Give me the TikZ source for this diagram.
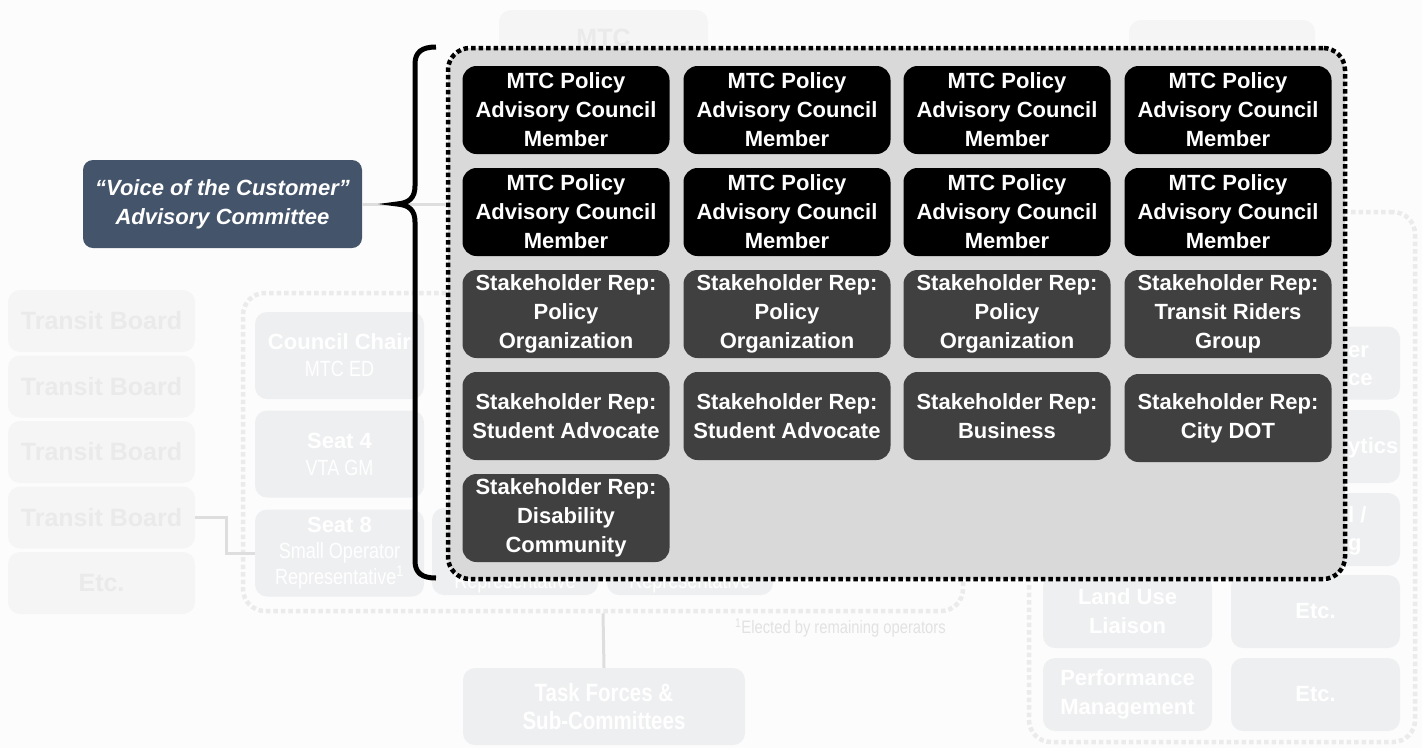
\documentclass[tikz,border=0pt]{standalone}
\usepackage{fontspec}
\setmainfont{Liberation Sans}
\newfontfamily\condfont[FakeStretch=0.82]{Liberation Sans}

\definecolor{voiceblue}{HTML}{44546A}
\definecolor{repgrey}{HTML}{404040}
\definecolor{groupgrey}{HTML}{D9D9D9}
\definecolor{pagebg}{HTML}{FCFCFC}
\definecolor{fadefill}{HTML}{EEEFF0}
\definecolor{palefill}{HTML}{F5F5F5}
\definecolor{paletext}{HTML}{EAEAEA}
\definecolor{linegrey}{HTML}{DEDEDE}
\definecolor{dotgrey}{HTML}{EBEBEB}
\definecolor{footgrey}{HTML}{E2E2E2}

\begin{document}
\begin{tikzpicture}[x=1pt, y=-1pt]
\tikzstyle{member}=[fill=black, text=white, rounded corners=14pt, minimum width=207pt, minimum height=88pt, inner sep=0pt, align=center, font=\fontsize{22}{29}\selectfont\bfseries]
\tikzstyle{rep}=[member, fill=repgrey]
\tikzstyle{voice}=[fill=voiceblue, text=white, rounded corners=10pt, minimum width=279pt, minimum height=88pt, inner sep=0pt, align=center, font=\fontsize{22}{29}\selectfont\bfseries\itshape]
\tikzstyle{vocgroup}=[draw=black, fill=groupgrey, line width=4.5pt, dash pattern=on 4.5pt off 3pt, rounded corners=22pt, inner sep=0pt]
\tikzstyle{fadegroup}=[draw=dotgrey, line width=4.5pt, dash pattern=on 4.5pt off 3pt, rounded corners=22pt, inner sep=0pt]
\tikzstyle{fadebox}=[fill=fadefill, text=white, rounded corners=12pt, inner sep=0pt, align=center, font=\fontsize{22}{27}\selectfont\bfseries]
\tikzstyle{fadetext}=[text=white, inner sep=0pt, font=\fontsize{22}{28}\selectfont\bfseries]
\tikzstyle{palebox}=[fill=palefill, text=paletext, rounded corners=12pt, minimum width=187pt, minimum height=62pt, inner sep=0pt, font=\fontsize{25}{29}\selectfont\bfseries]
\tikzstyle{fadeline}=[draw=linegrey, line width=3pt]

\useasboundingbox (0,0) rectangle (1422,748);
\fill[pagebg] (0,0) rectangle (1422,748);

% faded org chart behind
\node[palebox] at (101.5,321) (tb1) {Transit Board};
\node[palebox] at (101.5,386.5) (tb2) {Transit Board};
\node[palebox] at (101.5,452) (tb3) {Transit Board};
\node[palebox] at (101.5,517.5) (tb4) {Transit Board};
\node[palebox] at (101.5,583) (tbetc) {Etc.};

\node[palebox, minimum width=209pt, minimum height=56pt] at (603.5,38) (mtc) {MTC};
\node[palebox, minimum width=186pt, minimum height=60pt] at (1222,50) (topright) {};

\node[fadegroup, minimum width=720pt, minimum height=318pt] at (603,452) (council) {};
\node[fadebox, minimum width=169pt, minimum height=87pt] at (339.5,355.5) (chair) {Council Chair\\{\condfont\mdseries MTC ED}};
\node[fadebox, minimum width=169pt, minimum height=87pt] at (339.5,454) (seat4) {Seat 4\\{\condfont\mdseries VTA GM}};
\node[fadebox, minimum width=169pt, minimum height=87pt, font=\fontsize{22}{26}\selectfont\bfseries] at (339.5,553) (seat8) {Seat 8\\{\condfont\mdseries Small Operator}\\{\condfont\mdseries Representative\textsuperscript{1}}};
\node[fadebox, minimum width=166pt, minimum height=87pt] at (515,551.5) (seat9) {};
\node[fadebox, minimum width=166pt, minimum height=87pt] at (690,551.5) (seat10) {};
\node[fadetext, font=\condfont\fontsize{22}{25}\selectfont] at (515,583) (seat9txt) {Representative};
\node[fadetext, font=\condfont\fontsize{22}{25}\selectfont] at (690,583) (seat10txt) {Representative};
\node[text=footgrey, inner sep=0pt, font=\condfont\fontsize{18}{20}\selectfont] at (840.5,628) (footnote) {\textsuperscript{1}Elected by remaining operators};

\node[fadebox, minimum width=282pt, minimum height=77pt, font=\condfont\bfseries\fontsize{25}{28}\selectfont] at (604,706.5) (task) {Task Forces \&\\Sub-Committees};

\draw[fadeline] (tb4.east) -- ++(31,0) |- (seat8.west);
\draw[fadeline] (council.south) -- (task.north);

\node[fadegroup, minimum width=386pt, minimum height=530pt] at (1222,477) (staff) {};
\node[fadebox, minimum width=169pt, minimum height=73pt] at (1315.5,363) (staff1) {};
\node[fadebox, minimum width=169pt, minimum height=73pt] at (1315.5,446.5) (staff2) {};
\node[fadebox, minimum width=169pt, minimum height=73pt] at (1315.5,529.5) (staff3) {};
\node[fadebox, minimum width=169pt, minimum height=73pt, font=\fontsize{22}{29}\selectfont\bfseries] at (1127.5,611.5) (landuse) {Land Use\\Liaison};
\node[fadebox, minimum width=169pt, minimum height=73pt] at (1315.5,611.5) (etc1) {Etc.};
\node[fadebox, minimum width=169pt, minimum height=73pt, font=\fontsize{22}{29}\selectfont\bfseries] at (1127.5,694.5) (perf) {Performance\\Management};
\node[fadebox, minimum width=169pt, minimum height=73pt] at (1315.5,694.5) (etc2) {Etc.};
\node[fadetext, anchor=west, align=left] at (1348,366) (frag1) {er\\ce};
\node[fadetext, anchor=west] at (1348,448) (frag2) {ytics};
\node[fadetext, anchor=west, align=left] at (1348,531) (frag3) {l /\\g};

% voice of the customer committee
\node[voice] at (222.5,204) (voice) {``Voice of the Customer''\\Advisory Committee};
\node[vocgroup, minimum width=897pt, minimum height=531pt] at (896.5,313.5) (vocgrp) {};
\draw[fadeline] (voice.east) -- (vocgrp.west |- voice.east);

\node[member] at (566,110) (pac1) {MTC Policy\\Advisory Council\\Member};
\node[member] at (787,110) (pac2) {MTC Policy\\Advisory Council\\Member};
\node[member] at (1007,110) (pac3) {MTC Policy\\Advisory Council\\Member};
\node[member] at (1228,110) (pac4) {MTC Policy\\Advisory Council\\Member};
\node[member] at (566,212) (pac5) {MTC Policy\\Advisory Council\\Member};
\node[member] at (787,212) (pac6) {MTC Policy\\Advisory Council\\Member};
\node[member] at (1007,212) (pac7) {MTC Policy\\Advisory Council\\Member};
\node[member] at (1228,212) (pac8) {MTC Policy\\Advisory Council\\Member};

\node[rep] at (566,314) (rep1) {Stakeholder Rep:\\Policy\\Organization};
\node[rep] at (787,314) (rep2) {Stakeholder Rep:\\Policy\\Organization};
\node[rep] at (1007,314) (rep3) {Stakeholder Rep:\\Policy\\Organization};
\node[rep] at (1228,314) (rep4) {Stakeholder Rep:\\Transit Riders\\Group};
\node[rep] at (566,416) (rep5) {Stakeholder Rep:\\Student Advocate};
\node[rep] at (787,416) (rep6) {Stakeholder Rep:\\Student Advocate};
\node[rep] at (1007,416) (rep7) {Stakeholder Rep:\\Business};
\node[rep] at (1228,418) (rep8) {Stakeholder Rep:\\City DOT};
\node[rep] at (566,518) (rep9) {Stakeholder Rep:\\Disability\\Community};

% brace
\draw[line width=5pt] (436,47) .. controls (422,47) and (415,52) .. (415,64) -- (415,186)
  .. controls (415,198) and (409,203) .. (397,204) .. controls (409,205) and (415,210) .. (415,222)
  -- (415,561) .. controls (415,573) and (422,578) .. (436,578);
\end{tikzpicture}
\end{document}
